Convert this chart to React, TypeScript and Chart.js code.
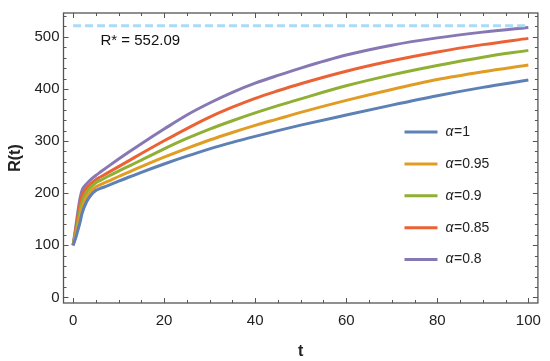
import React, { useEffect, useRef } from "react";
import { Chart, registerables } from "chart.js";

Chart.register(...registerables);

const tValues = [0, 0.5, 1, 1.5, 2, 3, 4, 5, 6, 7.5, 10, 12.5, 15, 20, 25, 30, 35, 40, 45, 50, 60, 70, 80, 90, 100];
const alpha1 = [100, 112, 127, 143, 162, 184, 197, 205, 209, 214, 223, 231.5, 240, 256, 271, 285, 297.5, 309, 320, 330.5, 350, 369, 387, 403, 417];
const alpha095 = [100, 116, 134, 154, 172, 193, 204, 212, 216.5, 222, 232, 241.5, 251, 269, 286, 302, 316.5, 330, 342.5, 355, 378, 399, 418, 433, 446];
const alpha09 = [100, 120, 142, 165, 183, 202, 212, 220, 224.5, 231.5, 242.5, 253, 263.5, 285, 305, 323, 339, 354, 368, 381, 406, 427, 445, 461, 474];
const alpha085 = [100, 125, 152, 177, 196, 210, 219, 226, 231, 238.5, 251, 263.5, 276, 300.5, 324, 346, 365, 382, 396.5, 410, 434, 454, 471, 485, 497];
const alpha08 = [100, 130, 161, 189, 206, 218, 227, 234, 240.5, 250, 265.5, 280.5, 295, 323, 350, 373, 393.5, 411, 426, 440, 465, 484, 498, 509, 518];
const seriesLabels = ["1", "0.95", "0.9", "0.85", "0.8"];
const seriesColors = ["#5E81B5", "#E19C24", "#8FB032", "#EB6235", "#8778B3"];
const rStarLevel = 521;
const rStarText = "R* = 552.09";
const xTicks = [0, 20, 40, 60, 80, 100];
const yTicks = [0, 100, 200, 300, 400, 500];

const FONT = "'Liberation Sans', Arial, sans-serif";

export default function App() {
  const ref = useRef<HTMLCanvasElement | null>(null);
  useEffect(() => {
    if (!ref.current) return;
    const all = [alpha1, alpha095, alpha09, alpha085, alpha08];
    const datasets: any[] = [
      {
        label: "R*",
        data: [
          { x: 0, y: rStarLevel },
          { x: 100, y: rStarLevel },
        ],
        borderColor: "#A8DCF6",
        borderWidth: 3,
        borderDash: [8, 4],
        pointRadius: 0,
      },
    ];
    all.forEach((arr, i) => {
      datasets.push({
        label: "α=" + seriesLabels[i],
        data: arr.map((v, j) => ({ x: tValues[j], y: v })),
        borderColor: seriesColors[i],
        borderWidth: 3,
        pointRadius: 0,
        cubicInterpolationMode: "monotone",
      });
    });

    const framePlugin = {
      id: "frame",
      afterDraw(chart: any) {
        const ctx = chart.ctx;
        const a = chart.chartArea;
        const xs = chart.scales.x;
        const ys = chart.scales.y;
        ctx.save();
        ctx.strokeStyle = "#555";
        ctx.lineWidth = 1.3;
        ctx.strokeRect(a.left, a.top, a.right - a.left, a.bottom - a.top);
        ctx.lineWidth = 1;
        for (let v = 0; v <= 100; v += 5) {
          const px = Math.round(xs.getPixelForValue(v)) + 0.5;
          const len = v % 20 === 0 ? 5 : 3;
          ctx.beginPath();
          ctx.moveTo(px, a.bottom);
          ctx.lineTo(px, a.bottom - len);
          ctx.moveTo(px, a.top);
          ctx.lineTo(px, a.top + len);
          ctx.stroke();
        }
        for (let v = 0; v <= 540; v += 20) {
          const py = Math.round(ys.getPixelForValue(v)) + 0.5;
          if (py < a.top + 1) continue;
          const len = v % 100 === 0 ? 5 : 3;
          ctx.beginPath();
          ctx.moveTo(a.left, py);
          ctx.lineTo(a.left + len, py);
          ctx.moveTo(a.right, py);
          ctx.lineTo(a.right - len, py);
          ctx.stroke();
        }
        ctx.fillStyle = "#111";
        ctx.font = "15px " + FONT;
        ctx.textBaseline = "middle";
        ctx.textAlign = "left";
        ctx.fillText(rStarText, a.left + 37, a.top + 28);
        const lx = a.left + 341;
        const ly = a.top + 119;
        all.forEach((_, i) => {
          const y = ly + i * 31.9;
          ctx.strokeStyle = seriesColors[i];
          ctx.lineWidth = 3;
          ctx.beginPath();
          ctx.moveTo(lx, y);
          ctx.lineTo(lx + 33, y);
          ctx.stroke();
          ctx.fillStyle = "#222";
          ctx.font = "italic 14px " + FONT;
          ctx.fillText("α", lx + 41, y);
          const w = ctx.measureText("α").width;
          ctx.font = "14px " + FONT;
          ctx.fillText("=" + seriesLabels[i], lx + 41 + w + 0.5, y);
        });
        ctx.restore();
      },
    };

    const chart = new Chart(ref.current, {
      type: "line",
      data: { datasets },
      options: {
        animation: false,
        responsive: false,
        maintainAspectRatio: false,
        layout: { padding: { top: 7, right: 7, left: 0, bottom: 0 } },
        plugins: { legend: { display: false }, tooltip: { enabled: false } },
        scales: {
          x: {
            type: "linear",
            min: -2.1,
            max: 102.1,
            afterBuildTicks: (s: any) => {
              s.ticks = xTicks.map((v) => ({ value: v }));
            },
            afterFit: (s: any) => {
              s.height = 58;
            },
            grid: { display: false, drawTicks: false },
            border: { display: false },
            ticks: { color: "#222", font: { family: FONT, size: 15 }, padding: 9, maxRotation: 0 },
            title: {
              display: true,
              text: "t",
              color: "#222",
              font: { family: FONT, size: 16, weight: "bold" },
              padding: { top: 0, bottom: 0 },
            },
          },
          y: {
            type: "linear",
            min: -10.7,
            max: 545.7,
            afterBuildTicks: (s: any) => {
              s.ticks = yTicks.map((v) => ({ value: v }));
            },
            afterFit: (s: any) => {
              s.width = 63.5;
            },
            grid: { display: false, drawTicks: false },
            border: { display: false },
            ticks: { color: "#222", font: { family: FONT, size: 15 }, padding: 4 },
            title: {
              display: true,
              text: "R(t)",
              color: "#222",
              font: { family: FONT, size: 16, weight: "bold" },
              padding: { bottom: 0, top: 6 },
            },
          },
        },
      },
      plugins: [framePlugin],
    });
    return () => chart.destroy();
  }, []);

  return (
    <div style={{ position: "absolute", left: 0, top: 0, width: 550, height: 361, background: "#fff" }}>
      <canvas ref={ref} width={550} height={361} style={{ width: 550, height: 361 }} />
    </div>
  );
}
